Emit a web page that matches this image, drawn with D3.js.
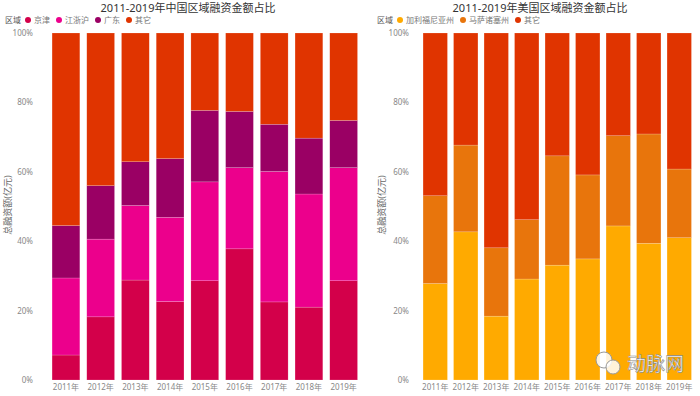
<!DOCTYPE html>
<html>
<head>
<meta charset="utf-8">
<script src="https://cdn.jsdelivr.net/npm/d3@7"></script>
<style>
  body { margin: 0; background: #fff; }
</style>
</head>
<body>
<svg id="chart" width="700" height="396"></svg>
<script>
// years shared by both charts
const years = ['2011年', '2012年', '2013年', '2014年', '2015年', '2016年', '2017年', '2018年', '2019年'];
const yTicks = [0, 20, 40, 60, 80, 100];

// China regions, share of total (%)
const cnRegions = ['京津', '江浙沪', '广东', '其它'];
const cnJingjin = [7.2, 18.2, 28.8, 22.6, 28.6, 37.8, 22.5, 21.0, 28.6];
const cnJiangzhehu = [22.2, 22.4, 21.5, 24.3, 28.5, 23.4, 37.6, 32.6, 32.6];
const cnGuangdong = [15.1, 15.4, 12.6, 16.9, 20.6, 16.2, 13.6, 16.1, 13.6];

// US regions, share of total (%)
const usRegions = ['加利福尼亚州', '马萨诸塞州', '其它'];
const usCalifornia = [27.8, 42.7, 18.4, 29.1, 33.1, 34.9, 44.4, 39.4, 41.0];
const usMassachusetts = [25.3, 25.0, 19.7, 17.1, 31.5, 24.2, 26.0, 31.5, 19.8];

const cnColors = ['#d3004a', '#ec008c', '#9a0064', '#e03400'];
const usColors = ['#ffaa00', '#e8750c', '#e03400'];

const FONT = '"Noto Sans", "Noto Sans CJK SC", sans-serif';

function buildRows(series) {
  // add the "其它" remainder so each bar sums to 100
  return years.map((y, i) => {
    const row = { year: y };
    let sum = 0;
    series.forEach((s, k) => { row['s' + k] = s[i]; sum += s[i]; });
    row['s' + series.length] = 100 - sum;
    return row;
  });
}

const svg = d3.select('#chart').style('font-family', FONT);

function drawChart(opt) {
  const g = svg.append('g');
  const keys = opt.regions.map((d, i) => 's' + i);
  const rows = buildRows(opt.series);

  const x = d3.scaleBand()
    .domain(years)
    .range(opt.xRange)
    .paddingInner(0.2)
    .paddingOuter(0.1);

  const y = d3.scaleLinear().domain([0, 100]).range([380, 33]);

  const stacked = d3.stack().keys(keys)(rows);

  g.selectAll('g.layer')
    .data(stacked)
    .join('g')
    .attr('class', 'layer')
    .attr('fill', (d, i) => opt.colors[i])
    .selectAll('rect')
    .data(d => d)
    .join('rect')
    .attr('x', d => x(d.data.year))
    .attr('width', x.bandwidth())
    .attr('y', d => y(d[1]))
    .attr('height', d => y(d[0]) - y(d[1]))
    .attr('stroke', 'rgba(255,255,255,0.35)')
    .attr('stroke-width', 0.5);

  // y axis
  const yAxis = g.append('g')
    .attr('transform', `translate(${opt.yAxisX}, 0)`)
    .call(d3.axisLeft(y).tickValues(yTicks).tickSize(0).tickPadding(0).tickFormat(d => d + '%'));
  yAxis.attr('font-family', FONT);
  yAxis.select('.domain').remove();
  yAxis.selectAll('text').attr('fill', '#888').style('font-size', '8px');

  // x axis
  const xAxis = g.append('g')
    .attr('transform', 'translate(0, 382)')
    .call(d3.axisBottom(x).tickSize(0).tickPadding(2));
  xAxis.attr('font-family', FONT);
  xAxis.select('.domain').remove();
  xAxis.selectAll('text').attr('fill', '#888').style('font-size', '8px');

  // y axis title
  g.append('text')
    .attr('transform', `translate(${opt.yTitleX}, 205) rotate(-90)`)
    .attr('text-anchor', 'middle')
    .attr('fill', '#666')
    .style('font-size', '9px')
    .text('总融资额(亿元)');

  // title
  g.append('text')
    .attr('x', opt.titleX)
    .attr('y', 12)
    .attr('text-anchor', 'middle')
    .attr('fill', '#333')
    .style('font-size', '11px')
    .text(opt.title);

  // legend
  const leg = g.append('g').attr('transform', `translate(${opt.legendX}, 20)`);
  leg.append('text')
    .attr('y', 3)
    .attr('fill', '#555')
    .style('font-size', '8px')
    .text('区域');
  let cx = 20;
  opt.regions.forEach((r, i) => {
    leg.append('circle').attr('cx', cx + 3).attr('cy', 0).attr('r', 3).attr('fill', opt.colors[i]);
    const t = leg.append('text')
      .attr('x', cx + 9)
      .attr('y', 3)
      .attr('fill', '#777')
      .style('font-size', '8px')
      .text(r);
    cx += 9 + t.node().getComputedTextLength() + 6;
  });
}

drawChart({
  title: '2011-2019年中国区域融资金额占比',
  regions: cnRegions,
  series: [cnJingjin, cnJiangzhehu, cnGuangdong],
  colors: cnColors,
  xRange: [48.6, 361],
  yAxisX: 33,
  yTitleX: 11,
  titleX: 188,
  legendX: 5
});

drawChart({
  title: '2011-2019年美国区域融资金额占比',
  regions: usRegions,
  series: [usCalifornia, usMassachusetts],
  colors: usColors,
  xRange: [420, 694.5],
  yAxisX: 409,
  yTitleX: 385,
  titleX: 540,
  legendX: 377
});

// watermark
const wm = svg.append('g').attr('transform', 'translate(596, 352)');
wm.append('circle').attr('cx', 8).attr('cy', 8).attr('r', 8).attr('fill', 'rgba(255,255,255,0.85)').attr('stroke', '#999');
wm.append('circle').attr('cx', 17).attr('cy', 15).attr('r', 7).attr('fill', 'rgba(255,255,255,0.85)').attr('stroke', '#999');
wm.append('text')
  .attr('x', 31)
  .attr('y', 19)
  .attr('fill', '#fff')
  .attr('stroke', '#888')
  .attr('stroke-width', 0.6)
  .style('font-size', '19px')
  .text('动脉网');
</script>
</body>
</html>
